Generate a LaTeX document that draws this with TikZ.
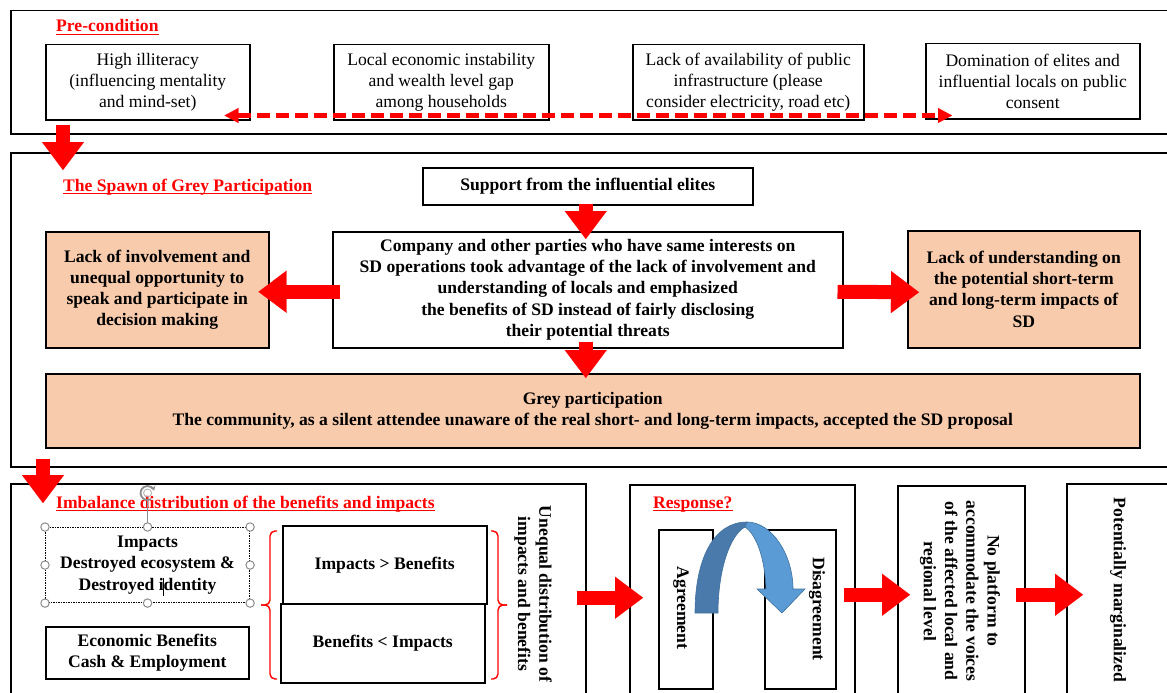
\documentclass[tikz,border=0pt]{standalone}
\usepackage{fontspec}
\setmainfont{Liberation Serif}
\usetikzlibrary{arrows.meta,calc}

\definecolor{peach}{HTML}{F8CBAD}
\definecolor{arrowred}{HTML}{FF0000}
\definecolor{bluedark}{HTML}{497AAB}
\definecolor{bluelight}{HTML}{5B9BD5}
\definecolor{blueedge}{HTML}{41719C}
\definecolor{handlegrey}{HTML}{8C8C8C}

\begin{document}
\begin{tikzpicture}[x=1pt,y=-1pt,
  txt/.style={font=\fontsize{17.6}{21.2}\selectfont},
  btxt/.style={font=\fontsize{17.6}{21.2}\selectfont\bfseries},
  frame/.style={draw=black, line width=1.5pt, inner sep=0pt, anchor=north west},
  box/.style={draw=black, line width=1.5pt, inner sep=0pt, anchor=north west, align=center},
  peachbox/.style={box, fill=peach},
  title/.style={btxt, text=arrowred, inner sep=0pt, anchor=base west},
  ul/.style={draw=arrowred, line width=1.3pt},
  vtext/.style={btxt, rotate=-90, align=center, inner sep=0pt},
  blk/.style={draw=arrowred, line width=14pt,
    -{Triangle[length=28pt,width=42pt,line width=0.1pt]}},
  dsh/.style={draw=arrowred, line width=4.5pt, dash pattern=on 13pt off 6pt,
    {Triangle[length=14pt,width=15pt,line width=0.1pt]}-{Triangle[length=14pt,width=15pt,line width=0.1pt]}},
  brace/.style={draw=arrowred, line width=1.4pt, rounded corners=5pt},
  handle/.style={draw=handlegrey, fill=white, line width=1pt},
]
\useasboundingbox (0,0) rectangle (1167,693);
\clip (0,0) rectangle (1167,693);

% ---------- Pre-condition ----------
\node[frame, minimum width=1170pt, minimum height=123pt] (f1) at (10,10) {};
\node[title] (t1) at (56,32) {Pre-condition};
\draw[ul] ($(t1.base west)+(0,2.5)$) -- ($(t1.base east)+(0,2.5)$);

\node[box, txt, minimum width=204pt, minimum height=75pt] (p1) at (45,44)
  {High illiteracy\\(influencing mentality\\and mind-set)};
\node[box, txt, minimum width=215pt, minimum height=75pt] (p2) at (333,44)
  {Local economic instability\\and wealth level gap\\among households};
\node[box, txt, minimum width=231pt, minimum height=75pt] (p3) at (632,44)
  {Lack of availability of public\\infrastructure (please\\consider electricity, road etc)};
\node[box, txt, minimum width=214pt, minimum height=75pt] (p4) at (925,43)
  {Domination of elites and\\influential locals on public\\consent};

\draw[dsh] ($(p1.south east)+(-26,-5)$) -- ($(p4.south west)+(27,-4)$);

% ---------- The Spawn of Grey Participation ----------
\node[frame, minimum width=1170pt, minimum height=314pt] (f2) at (10,152) {};
\node[title] (t2) at (63,191) {The Spawn of Grey Participation};
\draw[ul] ($(t2.base west)+(0,2.5)$) -- ($(t2.base east)+(0,2.5)$);

\node[box, btxt, minimum width=330pt, minimum height=37pt] (sup) at (422,167)
  {Support from the influential elites};
\node[box, btxt, minimum width=510pt, minimum height=116pt] (comp) at (332,231)
  {Company and other parties who have same interests on\\
   SD operations took advantage of the lack of involvement and\\
   understanding of locals and emphasized\\
   the benefits of SD instead of fairly disclosing\\
   their potential threats};
\node[peachbox, btxt, minimum width=223pt, minimum height=116pt] (lft) at (45,231)
  {Lack of involvement and\\unequal opportunity to\\speak and participate in\\decision making};
\node[peachbox, btxt, minimum width=232pt, minimum height=117pt] (rgt) at (907,230)
  {Lack of understanding on\\the potential short-term\\and long-term impacts of\\SD};
\node[peachbox, btxt, minimum width=1094pt, minimum height=74pt] (grey) at (45,373)
  {Grey participation\\The community, as a silent attendee unaware of the real short- and long-term impacts, accepted the SD proposal};

\draw[blk] ($(sup.south)+(-2,-2)$) -- ($(comp.north)+(-2,8)$);
\draw[blk] ($(comp.west)+(8,2)$) -- ($(lft.east)+(-11,2)$);
\draw[blk] ($(comp.east)+(-6,2)$) -- ($(rgt.west)+(12,3)$);
\draw[blk] ($(comp.south)+(-2,-7)$) -- ($(grey.north)+(-7,5)$);

% ---------- Imbalance distribution ----------
\node[frame, minimum width=575pt, minimum height=224pt] (f3) at (10,483) {};
\node[title] (t3) at (56,508) {Imbalance distribution of the benefits and impacts};
\draw[ul] ($(t3.base west)+(0,2.5)$) -- ($(t3.base east)+(0,2.5)$);

\node[box, btxt, densely dotted, line width=1.1pt, minimum width=204pt, minimum height=75pt] (imp) at (45,527)
  {Impacts\\Destroyed ecosystem \&\\Destroyed identity};
\node[box, btxt, minimum width=203pt, minimum height=52pt] (eco) at (45,626)
  {Economic Benefits\\Cash \& Employment};
\node[box, btxt, minimum width=204pt, minimum height=78pt] (ib) at (282,525)
  {Impacts > Benefits};
\node[box, btxt, minimum width=204pt, minimum height=79pt] (bi) at (280,603)
  {Benefits < Impacts};

% selection handles of the Impacts text box
\draw[handlegrey, line width=1pt] (imp.north) -- ++(0,-26);
\draw[handlegrey, line width=1.8pt, -{Stealth[length=4.5pt,width=6pt]}]
  ($(imp.north)+(0,-34)$) ++(60:7) arc[start angle=60, end angle=340, radius=7];
\draw[handlegrey!70, line width=0.8pt] ($(imp.north)+(0,-34)$) circle[radius=4];
\foreach \a in {north west,north,north east,west,east,south west,south,south east}
  \draw[handle] (imp.\a) circle[radius=4.2];
\draw[black, line width=0.8pt] (163,578) -- (163,596);

% braces around the comparison boxes
\draw[brace] (277,531) -- (270,531) -- (270,605) -- (261,605);
\draw[brace] (261,605) -- (270,605) -- (270,679) -- (277,679);
\draw[brace] (491,531) -- (498,531) -- (498,605) -- (507,605);
\draw[brace] (507,605) -- (498,605) -- (498,679) -- (491,679);

\node[vtext] (uneq) at (533,594) {Unequal distribution of\\impacts and benefits};

% ---------- Response ----------
\node[frame, minimum width=225pt, minimum height=222pt] (resp) at (629,484) {};
\node[title] (t4) at (653,508) {Response?};
\draw[ul] ($(t4.base west)+(0,2.5)$) -- ($(t4.base east)+(0,2.5)$);

\node[box, minimum width=54pt, minimum height=159pt] (agr) at (658,529) {};
\node[box, minimum width=71pt, minimum height=159pt] (dis) at (764,529) {};
\node[vtext] (agrt) at (681,608) {Agreement};
\node[vtext] (dist) at (817,609) {Disagreement};

% curved arrow from agreement over to disagreement
\filldraw[fill=bluedark, draw=blueedge, line width=0.6pt]
  (695,613) .. controls (695,560) and (713,522) .. (747,522)
  -- (745,527) .. controls (730,535) and (718,570) .. (718,613) -- cycle;
\filldraw[fill=bluelight, draw=blueedge, line width=0.6pt]
  (747,522) .. controls (772,522) and (793,555) .. (793,589)
  -- (805,589) -- (782,613) -- (757,589) -- (766,589)
  .. controls (765,560) and (757,535) .. (745,527) -- cycle;

% ---------- No platform / Potentially marginalized ----------
\node[frame, minimum width=127pt, minimum height=220pt] (nop) at (897,485) {};
\node[vtext] (nopt) at (960,591)
  {No platform to\\accommodate the voices\\of the affected local and\\regional level};
\node[frame, minimum width=114pt, minimum height=224pt] (pot) at (1066,483) {};
\node[vtext] (pott) at (1118,590) {Potentially marginalized};

% ---------- flow between the panels ----------
\draw[blk] ($(p1.south west)+(18,4)$) -- ($(f2.north west)+(53,18)$);
\draw[blk] ($(f2.south west)+(33,-9)$) -- ($(f3.north west)+(33,20)$);
\draw[blk] ($(f3.east)+(-10,2)$) -- ($(resp.west)+(14,2)$);
\draw[blk] ($(resp.east)+(-12,-1)$) -- ($(nop.west)+(13,-1)$);
\draw[blk] ($(nop.east)+(-10,-1)$) -- ($(pot.west)+(17,-1)$);
\end{tikzpicture}
\end{document}
